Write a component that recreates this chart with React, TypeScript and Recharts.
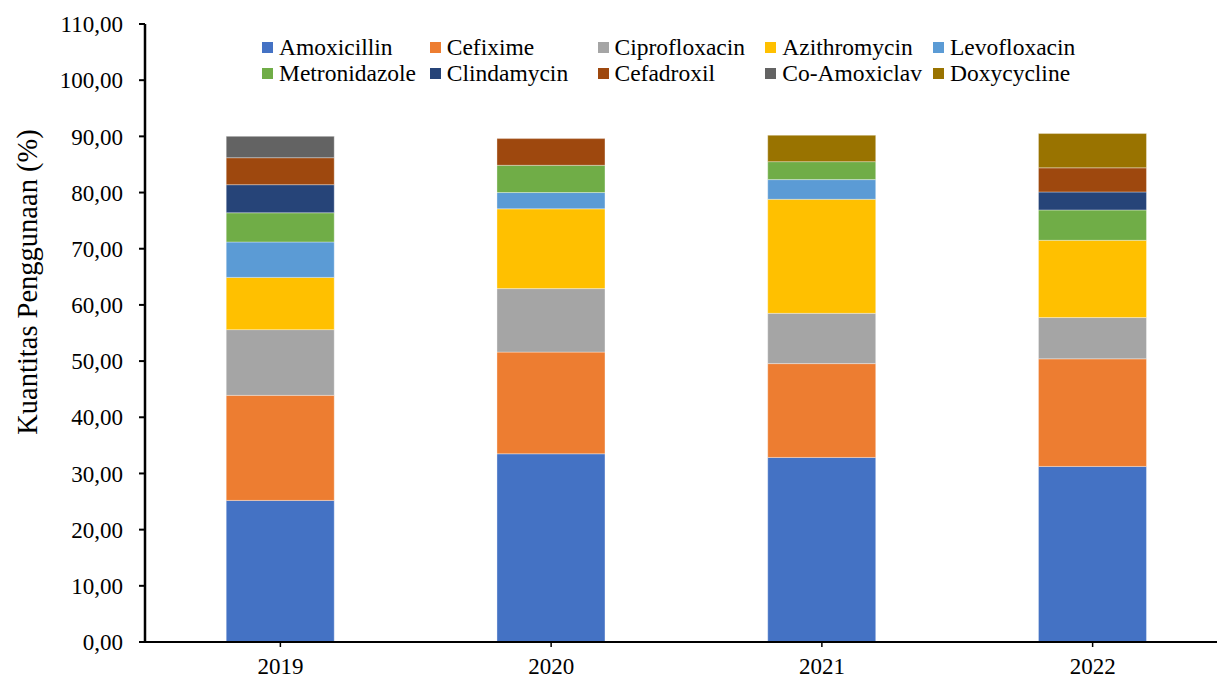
import React from 'react'
import { Bar, BarChart, Label, XAxis, YAxis } from 'recharts'

const years = ['2019', '2020', '2021', '2022']

const amoxicillin = [25.2, 33.5, 32.85, 31.25]
const cefixime = [18.7, 18.1, 16.7, 19.15]
const ciprofloxacin = [11.7, 11.3, 8.95, 7.35]
const azithromycin = [9.3, 14.2, 20.3, 13.75]
const levofloxacin = [6.3, 2.9, 3.5, 0]
const metronidazole = [5.2, 4.85, 3.2, 5.4]
const clindamycin = [5.0, 0, 0, 3.2]
const cefadroxil = [4.8, 4.75, 0, 4.3]
const coAmoxiclav = [3.8, 0, 0, 0]
const doxycycline = [0, 0, 4.7, 6.1]

const yTicks = [0, 10, 20, 30, 40, 50, 60, 70, 80, 90, 100, 110]

const series = [
  { key: 'Amoxicillin', values: amoxicillin, color: '#4472C4' },
  { key: 'Cefixime', values: cefixime, color: '#ED7D31' },
  { key: 'Ciprofloxacin', values: ciprofloxacin, color: '#A5A5A5' },
  { key: 'Azithromycin', values: azithromycin, color: '#FFC000' },
  { key: 'Levofloxacin', values: levofloxacin, color: '#5B9BD5' },
  { key: 'Metronidazole', values: metronidazole, color: '#70AD47' },
  { key: 'Clindamycin', values: clindamycin, color: '#264478' },
  { key: 'Cefadroxil', values: cefadroxil, color: '#9E480E' },
  { key: 'Co-Amoxiclav', values: coAmoxiclav, color: '#636363' },
  { key: 'Doxycycline', values: doxycycline, color: '#997300' },
]

const data = years.map((year, i) => {
  const row: Record<string, string | number> = { year }
  series.forEach((s) => {
    row[s.key] = s.values[i]
  })
  return row
})

const FONT = 'Liberation Serif'

const fmt = (v: number) => v.toFixed(2).replace('.', ',')

const YTitle = () => (
  <text
    x={27}
    y={282}
    transform="rotate(-90, 27, 282)"
    textAnchor="middle"
    dominantBaseline="central"
    style={{ fontFamily: FONT, fontSize: 28.5 }}
    fill="#000"
  >
    Kuantitas Penggunaan (%)
  </text>
)

const LegendBox = () => (
  <div
    style={{
      position: 'absolute',
      left: 262,
      top: 34,
      display: 'grid',
      gridTemplateColumns: 'repeat(5, 167.75px)',
      gridAutoRows: 26,
      fontFamily: FONT,
      fontSize: 23.5,
      color: '#000',
      pointerEvents: 'none',
    }}
  >
    {series.map((s) => (
      <div key={s.key} style={{ display: 'flex', alignItems: 'center', whiteSpace: 'nowrap' }}>
        <span style={{ width: 11, height: 11, background: s.color, marginRight: 6, flex: 'none' }} />
        <span>{s.key}</span>
      </div>
    ))}
  </div>
)

const tickStyle = { fill: '#000', fontFamily: FONT, fontSize: 23 }

export default function App() {
  return (
    <div
      style={{
        position: 'fixed',
        top: 0,
        left: 0,
        width: 1217,
        height: 679,
        overflow: 'hidden',
        background: '#fff',
        fontFamily: FONT,
      }}
    >
      <BarChart
        width={1240}
        height={690}
        data={data}
        margin={{ top: 24, right: 12, bottom: 0, left: 0 }}
        barCategoryGap="30%"
      >
        <XAxis
          dataKey="year"
          height={48}
          axisLine={{ stroke: '#000', strokeWidth: 2 }}
          tickLine={{ stroke: '#000', strokeWidth: 1.5 }}
          tickSize={5}
          tickMargin={11}
          tick={tickStyle}
        />
        <YAxis
          width={145}
          domain={[0, 110]}
          ticks={yTicks}
          interval={0}
          tickFormatter={fmt}
          axisLine={{ stroke: '#000', strokeWidth: 2.5 }}
          tickLine={{ stroke: '#000', strokeWidth: 2 }}
          tickSize={6}
          tickMargin={16}
          tick={tickStyle}
        >
          <Label content={<YTitle />} />
        </YAxis>
        {series.map((s) => (
          <Bar
            key={s.key}
            dataKey={s.key}
            stackId="a"
            fill={s.color}
            stroke="#ffffff"
            strokeOpacity={0.45}
            strokeWidth={0.75}
            isAnimationActive={false}
          />
        ))}
      </BarChart>
      <LegendBox />
    </div>
  )
}
